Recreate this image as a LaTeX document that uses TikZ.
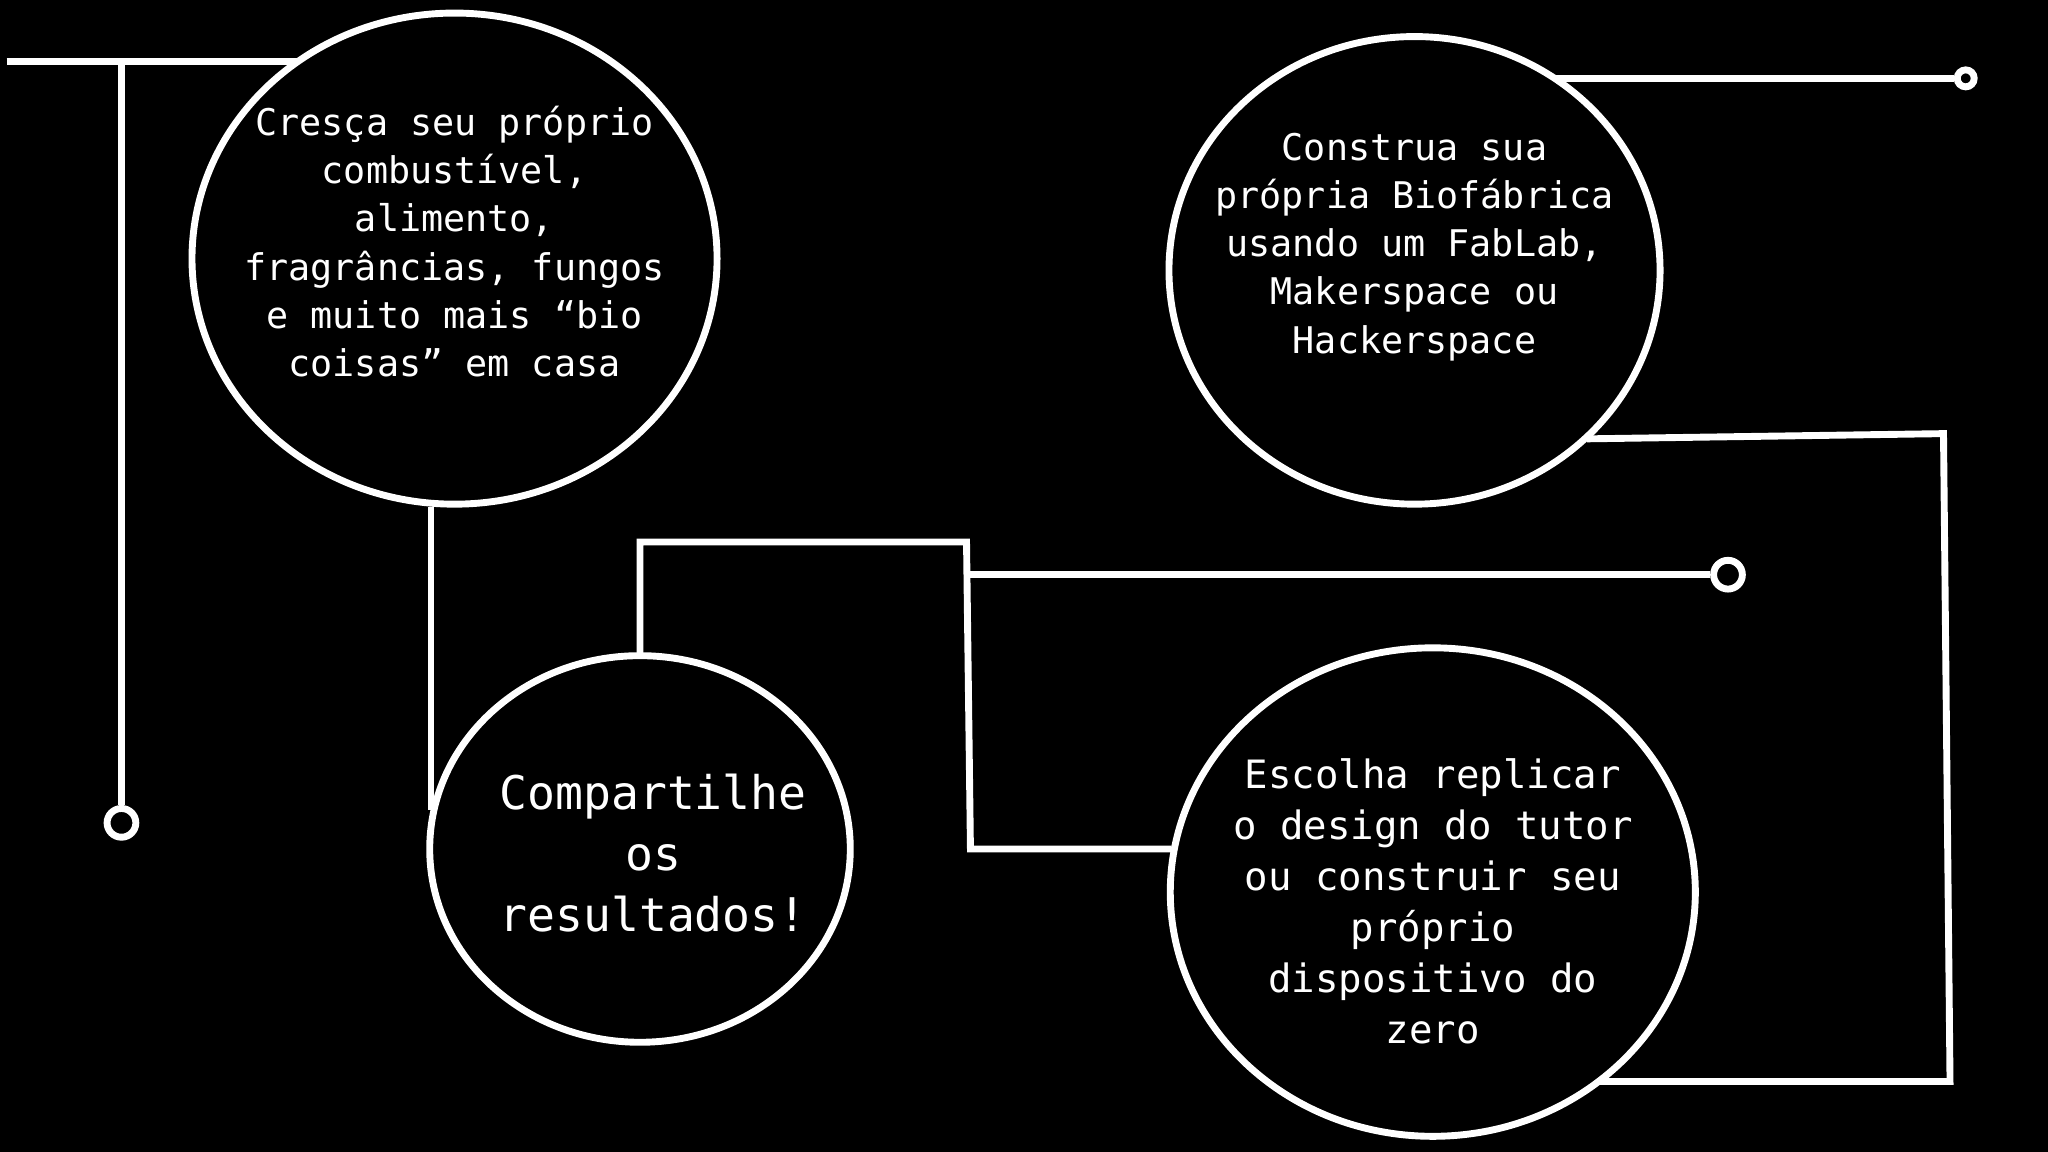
\documentclass[tikz,border=0pt]{standalone}
\usepackage{fontspec}
\setmonofont{DejaVu Sans Mono}
\begin{document}
\begin{tikzpicture}[x=0.01cm,y=-0.01cm,
  ln/.style={draw=white,line width=1.5pt},
  bub/.style={ln,fill=black},
  dot/.style={draw=white,line width=1.5pt,circle,inner sep=0},
  txt/.style={text=white,align=center,font=\ttfamily\fontsize{8}{10.5}\selectfont}]
\fill[black] (0,0) rectangle (1568,882);
\useasboundingbox (0,0) rectangle (1568,882);
% connectors
\coordinate (a0) at (5,47);
\coordinate (a1) at (228,47);
\coordinate (a2) at (93,47);
\draw[ln] (a0) -- (a1);
\node[dot,minimum size=0.22cm] (d1) at (93,630) {};
\draw[ln] (a2) -- (d1);
\draw[ln] (330,388) -- (330,620);
\draw[ln] (490,502) -- (490,415) -- (740,415) -- (743,650) -- (897,650);
\node[dot,minimum size=0.22cm] (d2) at (1323,440) {};
\coordinate (b0) at (743,440);
\draw[ln] (b0) -- (d2);
\node[dot,minimum size=0.13cm] (d3) at (1505,60) {};
\coordinate (c0) at (1190,60);
\draw[ln] (c0) -- (d3);
\draw[ln] (1215,336) -- (1488,332) -- (1493,828) -- (1225,828);
% bubbles
\draw[bub] (348,198) ellipse [x radius=201,y radius=188];
\draw[bub] (1083,207) ellipse [x radius=188,y radius=179];
\draw[bub] (490,650) ellipse [x radius=161,y radius=148];
\draw[bub] (1097,683) ellipse [x radius=201,y radius=187];
\node[txt] (t1) at (348,185) {Cresça seu próprio\\combustível,\\alimento,\\fragrâncias, fungos\\e muito mais “bio\\coisas” em casa};
\node[txt] (t2) at (1083,189) {Construa sua\\própria Biofábrica\\usando um FabLab,\\Makerspace ou\\Hackerspace};
\node[txt,font=\ttfamily\fontsize{10.1}{13.3}\selectfont] (t3) at (500,653) {Compartilhe\\os\\resultados!};
\node[txt,font=\ttfamily\fontsize{8.5}{11.1}\selectfont] (t4) at (1097,690) {Escolha replicar\\o design do tutor\\ou construir seu\\próprio\\dispositivo do\\zero};
\end{tikzpicture}
\end{document}
